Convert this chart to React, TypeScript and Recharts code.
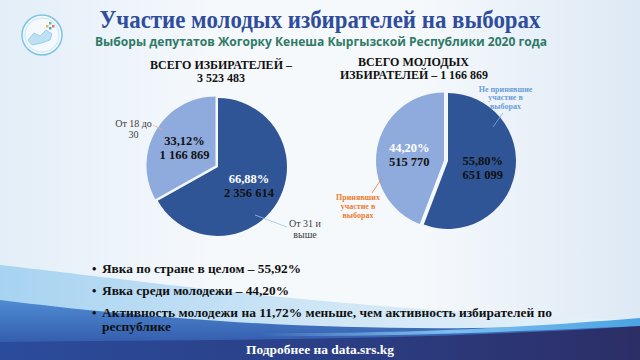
import React from 'react';
import { PieChart, Pie, Cell } from 'recharts';

// ---------- DATA ----------
const totalCategories = ['От 31 и выше', 'От 18 до 30'];
const totalValues = [2356614, 1166869];
const totalPercentLabels = ['66,88%', '33,12%'];
const totalCountLabels = ['2 356 614', '1 166 869'];
const totalOuterLabels = [['От 31 и', 'выше'], ['От 18 до', '30']];

const youthCategories = ['Не принявшие участие в выборах', 'Принявших участие в выборах'];
const youthValues = [651099, 515770];
const youthPercentLabels = ['55,80%', '44,20%'];
const youthCountLabels = ['651 099', '515 770'];
const youthOuterLabels = [['Не принявшие', 'участие в', 'выборах'], ['Принявших', 'участие в', 'выборах']];

const titleText = 'Участие молодых избирателей на выборах';
const subtitleText = 'Выборы депутатов Жогорку Кенеша Кыргызской Республики 2020 года';
const pie1Title = ['ВСЕГО ИЗБИРАТЕЛЕЙ –', '3 523 483'];
const pie2Title = ['ВСЕГО МОЛОДЫХ', 'ИЗБИРАТЕЛЕЙ – 1 166 869'];
const bulletLines = [
  'Явка по стране в целом – 55,92%',
  'Явка среди молодежи – 44,20%',
  'Активность молодежи на 11,72% меньше, чем активность избирателей по',
];
const bulletContinuation = 'республике';
const footerText = 'Подробнее на data.srs.kg';

// ---------- STYLE / LAYOUT ----------
const DARK = '#2f5597';
const LIGHT = '#8faadc';
const SERIF = '"Liberation Serif", "Times New Roman", serif';
const W = 640;
const H = 360;

const totalData = totalCategories.map((name, i) => ({ name, value: totalValues[i] }));
const youthData = youthCategories.map((name, i) => ({ name, value: youthValues[i] }));

type OuterLayout = { dx: number; dys: number[]; l1: [number, number]; l2: [number, number]; color: string; textColor: string; size: number; weight: number };

const pie1Outer: OuterLayout[] = [
  { dx: 87, dys: [60, 71], l1: [37, 48], l2: [69, 60], color: '#9dc3e6', textColor: '#404040', size: 10, weight: 400 },
  { dx: -84.5, dys: [-40.5, -29.5], l1: [-65, -42], l2: [-55, -37], color: '#f4b183', textColor: '#404040', size: 10, weight: 400 },
];
const pie2Outer: OuterLayout[] = [
  { dx: 57.5, dys: [-69.5, -61, -52.5], l1: [55, -48], l2: [45, -34], color: '#7aaee0', textColor: '#6a9fd8', size: 8, weight: 700 },
  { dx: -90, dys: [39, 48, 56.5], l1: [-66, 17], l2: [-76, 32], color: '#ed7d31', textColor: '#ed7d31', size: 8, weight: 700 },
];

const RAD = Math.PI / 180;

function makeLabel(
  only: number,
  percents: string[],
  counts: string[],
  outer: string[][],
  layout: OuterLayout[],
  percentColors: string[],
  baseCx: number,
  baseCy: number,
) {
  return (props: any) => {
    const { cx, cy, midAngle, outerRadius, index } = props;
    if (index !== only) return null;
    const r = outerRadius * 0.52;
    const x = cx + r * Math.cos(-midAngle * RAD);
    const y = cy + r * Math.sin(-midAngle * RAD);
    const lay = layout[index];
    return (
      <g>
        <text x={x} y={y - 2} textAnchor="middle" fontFamily={SERIF} fontWeight={700} fontSize={12.5} fill={percentColors[index]}>
          {percents[index]}
        </text>
        <text x={x} y={y + 12} textAnchor="middle" fontFamily={SERIF} fontWeight={700} fontSize={12.5} fill="#111">
          {counts[index]}
        </text>
        <line
          x1={baseCx + lay.l1[0]}
          y1={baseCy + lay.l1[1]}
          x2={baseCx + lay.l2[0]}
          y2={baseCy + lay.l2[1]}
          stroke={lay.color}
          strokeWidth={0.8}
        />
        {outer[index].map((t, k) => (
          <text
            key={k}
            x={baseCx + lay.dx}
            y={baseCy + lay.dys[k]}
            textAnchor="middle"
            fontFamily={SERIF}
            fontWeight={lay.weight}
            fontSize={lay.size}
            fill={lay.textColor}
          >
            {t}
          </text>
        ))}
      </g>
    );
  };
}

const P1 = { cx: 218, cy: 167, r: 69 };
const P2 = { cx: 448, cy: 161, r: 68 };

function Background() {
  return (
    <svg width={W} height={H} style={{ position: 'absolute', left: 0, top: 0 }}>
      <defs>
        <linearGradient id="bg" x1="0" y1="0" x2="1" y2="0">
          <stop offset="0" stopColor="#e3eef8" />
          <stop offset="0.35" stopColor="#f6f9fc" />
          <stop offset="0.65" stopColor="#f6f9fc" />
          <stop offset="1" stopColor="#dde9f5" />
        </linearGradient>
        <linearGradient id="lightBand" x1="0" y1="0" x2="1" y2="0">
          <stop offset="0" stopColor="#a7d3f1" />
          <stop offset="0.5" stopColor="#cfe6f6" />
          <stop offset="1" stopColor="#e8f2fa" />
        </linearGradient>
        <linearGradient id="blueBand" x1="0" y1="0" x2="0" y2="1">
          <stop offset="0" stopColor="#4f8bd3" />
          <stop offset="1" stopColor="#2a4b9e" />
        </linearGradient>
        <linearGradient id="skyStrip" x1="0" y1="0" x2="1" y2="0">
          <stop offset="0" stopColor="#8fcaf0" stopOpacity="0" />
          <stop offset="0.5" stopColor="#7cc0ee" />
          <stop offset="1" stopColor="#4ba3e3" />
        </linearGradient>
        <linearGradient id="navy" x1="0" y1="0" x2="1" y2="0">
          <stop offset="0" stopColor="#2b4c9c" />
          <stop offset="0.5" stopColor="#2b3f86" />
          <stop offset="1" stopColor="#2c2e66" />
        </linearGradient>
      </defs>
      <rect x={0} y={0} width={W} height={H} fill="url(#bg)" />
      <path d="M0,265 C150,282 360,312 640,320 L640,360 L0,360 Z" fill="url(#lightBand)" />
      <path d="M0,300 C160,320 380,338 640,322 L640,360 L0,360 Z" fill="url(#blueBand)" />
      <path d="M260,333 C420,334 540,326 640,318 L640,326 C540,330 420,337 260,336 Z" fill="url(#skyStrip)" />
      <path d="M0,342 C220,340 430,340 640,326 L640,360 L0,360 Z" fill="url(#navy)" />
      {/* logo */}
      <circle cx={42} cy={35} r={20} fill="#f4f9fd" stroke="#7cc4e6" strokeWidth={1.5} />
      <circle cx={42} cy={35} r={17} fill="none" stroke="#a9d8ef" strokeWidth={0.6} />
      <path d="M28,40 L34,33 L40,36 L46,30 L52,34 L50,40 L42,43 L32,45 Z" fill="#bfe0f2" stroke="#7cc4e6" strokeWidth={0.7} />
      <rect x={49} y={22} width={2.5} height={2.5} fill="#6cc070" />
      <rect x={52} y={25} width={2.5} height={2.5} fill="#e57373" />
      <rect x={49} y={27} width={2.5} height={2.5} fill="#5b9bd5" />
      <rect x={46} y={25} width={2.5} height={2.5} fill="#f0b04a" />
    </svg>
  );
}

function TextLayer() {
  const ys = [273, 295, 317];
  const lens = [199, 187, 450];
  return (
    <svg width={W} height={H} style={{ position: 'absolute', left: 0, top: 0, pointerEvents: 'none' }}>
      <text x={320} y={28} textAnchor="middle" fontFamily={SERIF} fontWeight={700} fontSize={25} fill="#2f4d9c" textLength={441} lengthAdjust="spacingAndGlyphs">
        {titleText}
      </text>
      <text x={321} y={46} textAnchor="middle" fontFamily='"Open Sans", "Noto Sans", sans-serif' fontWeight={700} fontSize={13} fill="#2f7a66" textLength={452} lengthAdjust="spacingAndGlyphs">
        {subtitleText}
      </text>
      <text x={221} y={69} textAnchor="middle" fontFamily={SERIF} fontWeight={700} fontSize={12} fill="#111" textLength={142} lengthAdjust="spacingAndGlyphs">
        {pie1Title[0]}
      </text>
      <text x={221} y={82} textAnchor="middle" fontFamily={SERIF} fontWeight={700} fontSize={12} fill="#111">
        {pie1Title[1]}
      </text>
      <text x={413.5} y={66} textAnchor="middle" fontFamily={SERIF} fontWeight={700} fontSize={12} fill="#111" textLength={111} lengthAdjust="spacingAndGlyphs">
        {pie2Title[0]}
      </text>
      <text x={414} y={79} textAnchor="middle" fontFamily={SERIF} fontWeight={700} fontSize={12} fill="#111" textLength={148} lengthAdjust="spacingAndGlyphs">
        {pie2Title[1]}
      </text>
      {bulletLines.map((t, i) => (
        <g key={i}>
          <text x={92} y={ys[i]} fontFamily={SERIF} fontWeight={700} fontSize={12.5} fill="#111">•</text>
          <text x={102} y={ys[i]} fontFamily={SERIF} fontWeight={700} fontSize={12.5} fill="#111" textLength={lens[i]} lengthAdjust="spacingAndGlyphs">
            {t}
          </text>
        </g>
      ))}
      <text x={102} y={330.5} fontFamily={SERIF} fontWeight={700} fontSize={12.5} fill="#111" textLength={69} lengthAdjust="spacingAndGlyphs">
        {bulletContinuation}
      </text>
      <text x={320} y={354} textAnchor="middle" fontFamily={SERIF} fontWeight={700} fontSize={13.5} fill="#ffffff" textLength={148} lengthAdjust="spacingAndGlyphs">
        {footerText}
      </text>
    </svg>
  );
}

export default function App() {
  return (
    <div style={{ position: 'absolute', left: 0, top: 0, width: W, height: H, overflow: 'hidden' }}>
      <Background />
      <div style={{ position: 'absolute', left: 0, top: 0 }}>
        <PieChart width={W} height={H} margin={{ top: 0, right: 0, bottom: 0, left: 0 }}>
          <Pie
            data={totalData}
            dataKey="value"
            nameKey="name"
            cx={P1.cx}
            cy={P1.cy}
            outerRadius={P1.r}
            startAngle={90}
            endAngle={-270}
            stroke="none"
            isAnimationActive={false}
            labelLine={false}
            label={makeLabel(0, totalPercentLabels, totalCountLabels, totalOuterLabels, pie1Outer, ['#ffffff', '#111'], P1.cx, P1.cy)}
          >
            <Cell fill={DARK} />
            <Cell fill="transparent" />
          </Pie>
          <Pie
            data={totalData}
            dataKey="value"
            nameKey="name"
            cx={P1.cx - 2.5}
            cy={P1.cy - 1.5}
            outerRadius={P1.r}
            startAngle={90}
            endAngle={-270}
            stroke="none"
            isAnimationActive={false}
            labelLine={false}
            label={makeLabel(1, totalPercentLabels, totalCountLabels, totalOuterLabels, pie1Outer, ['#ffffff', '#111'], P1.cx, P1.cy)}
          >
            <Cell fill="transparent" />
            <Cell fill={LIGHT} />
          </Pie>
          <Pie
            data={youthData}
            dataKey="value"
            nameKey="name"
            cx={P2.cx}
            cy={P2.cy}
            outerRadius={P2.r}
            startAngle={90}
            endAngle={-270}
            stroke="none"
            isAnimationActive={false}
            labelLine={false}
            label={makeLabel(0, youthPercentLabels, youthCountLabels, youthOuterLabels, pie2Outer, ['#111', '#ffffff'], P2.cx, P2.cy)}
          >
            <Cell fill={DARK} />
            <Cell fill="transparent" />
          </Pie>
          <Pie
            data={youthData}
            dataKey="value"
            nameKey="name"
            cx={P2.cx - 4}
            cy={P2.cy - 0.5}
            outerRadius={P2.r}
            startAngle={90}
            endAngle={-270}
            stroke="none"
            isAnimationActive={false}
            labelLine={false}
            label={makeLabel(1, youthPercentLabels, youthCountLabels, youthOuterLabels, pie2Outer, ['#111', '#ffffff'], P2.cx, P2.cy)}
          >
            <Cell fill="transparent" />
            <Cell fill={LIGHT} />
          </Pie>
        </PieChart>
      </div>
      <TextLayer />
    </div>
  );
}
